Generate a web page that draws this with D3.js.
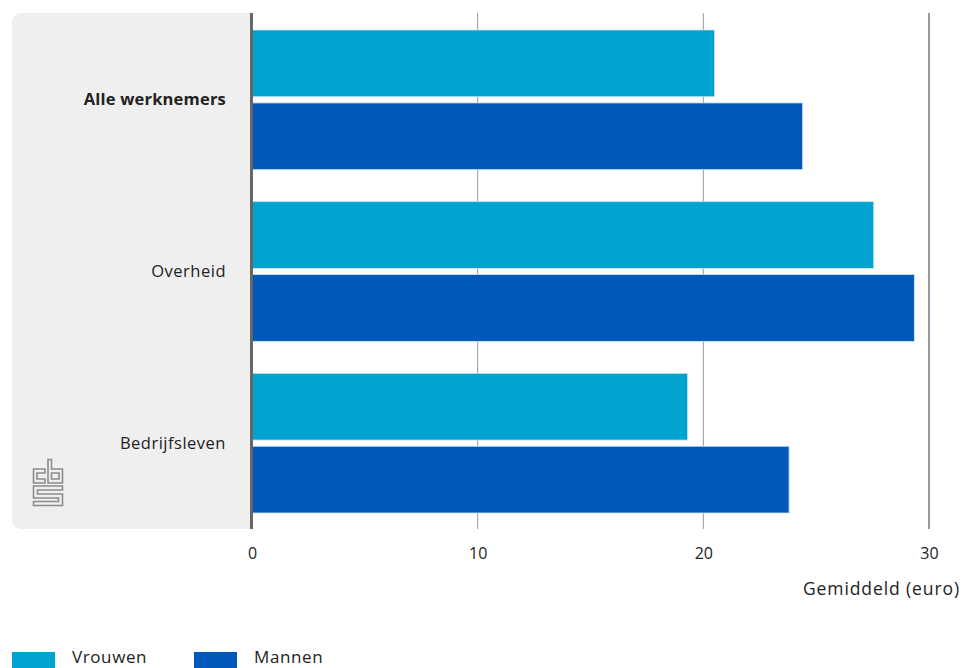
<!DOCTYPE html>
<html>
<head>
<meta charset="utf-8">
<script src="https://cdn.jsdelivr.net/npm/d3@7"></script>
<style>
  html, body { margin: 0; padding: 0; background: #fff; }
  svg { display: block; }
  text { font-family: "Open Sans", "Noto Sans", sans-serif; fill: #222; }
</style>
</head>
<body>
<svg id="chart" width="969" height="668"></svg>
<script>
const categories = ["Alle werknemers", "Overheid", "Bedrijfsleven"];
const seriesNames = ["Vrouwen", "Mannen"];
const vrouwen = [20.5, 27.55, 19.3];
const mannen = [24.4, 29.35, 23.8];
const xTicks = [0, 10, 20, 30];
const xTitle = "Gemiddeld (euro)";
const colors = ["#00a3cf", "#0059b8"];

const svg = d3.select("#chart");

const x = d3.scaleLinear().domain([0, 30]).range([252, 929]);
const y = d3.scaleBand().domain(categories).range([13, 528]).paddingInner(0).paddingOuter(0);
const inner = d3.scaleBand().domain(seriesNames).range([17, y.bandwidth() - 15]).paddingInner(0.085);

// gray label panel
svg.append("rect")
  .attr("x", 12).attr("y", 13)
  .attr("width", 250).attr("height", 516)
  .attr("rx", 9).attr("ry", 9)
  .attr("fill", "#efefef");
svg.append("rect")
  .attr("x", 251).attr("y", 13)
  .attr("width", 20).attr("height", 516)
  .attr("fill", "#fff");

// grid lines
const grid = svg.append("g");
grid.selectAll("line").data(xTicks.filter(d => d > 0)).join("line")
  .attr("x1", d => x(d)).attr("x2", d => x(d))
  .attr("y1", 13).attr("y2", 529)
  .attr("stroke", d => d === 30 ? "#777" : "#9a9a9a")
  .attr("stroke-width", d => d === 30 ? 1.5 : 1);

// bars
const data = categories.map((c, i) => ({ cat: c, vals: [vrouwen[i], mannen[i]] }));
const groups = svg.append("g").selectAll("g").data(data).join("g")
  .attr("transform", d => `translate(0,${y(d.cat)})`);
groups.selectAll("rect").data(d => d.vals.map((v, j) => ({ v, s: seriesNames[j], j }))).join("rect")
  .attr("x", x(0))
  .attr("y", d => inner(d.s))
  .attr("width", d => x(d.v) - x(0))
  .attr("height", inner.bandwidth())
  .attr("fill", d => colors[d.j])
  .attr("stroke", "#cfe3f3")
  .attr("stroke-width", 0.8);

// baseline axis
svg.append("line")
  .attr("x1", 251.5).attr("x2", 251.5)
  .attr("y1", 13).attr("y2", 529)
  .attr("stroke", "#666").attr("stroke-width", 3);

// category labels
svg.append("g").selectAll("text").data(categories).join("text")
  .attr("x", 226)
  .attr("y", d => y(d) + y.bandwidth() / 2 + 2)
  .attr("text-anchor", "end")
  .attr("dominant-baseline", "middle")
  .attr("font-size", 16.5)
  .attr("font-weight", (d, i) => i === 0 ? 700 : 400)
  .attr("letter-spacing", (d, i) => i === 0 ? 0.2 : 0.5)
  .text(d => d);

// x axis tick labels
const xAxis = d3.axisBottom(x).tickValues(xTicks).tickSize(0).tickPadding(0).tickFormat(d3.format("d"));
const gx = svg.append("g").attr("transform", "translate(0,548)").call(xAxis);
gx.select(".domain").remove();
gx.selectAll("text")
  .attr("font-size", 16)
  .attr("font-family", '"Open Sans", "Noto Sans", sans-serif')
  .attr("fill", "#222")
  .attr("dy", "0.71em");

svg.append("text")
  .attr("x", 960).attr("y", 595)
  .attr("text-anchor", "end")
  .attr("font-size", 17.5)
  .attr("letter-spacing", 0.9)
  .text(xTitle);

// legend
const leg = svg.append("g");
const legX = [12, 194];
seriesNames.forEach((s, i) => {
  leg.append("rect").attr("x", legX[i]).attr("y", 652).attr("width", 43).attr("height", 16).attr("fill", colors[i]);
  leg.append("text").attr("x", legX[i] + 60).attr("y", 663).attr("font-size", 17)
    .attr("letter-spacing", 0.6).text(s);
});

// CBS logo (approximate)
const logo = svg.append("g").attr("transform", "translate(32,459)");
const logoPaths = [
  "M13,10 H1.5 V24 H13 V20 H5 V14 H13 Z",
  "M16,0.5 H19.5 V10 H30.5 V24 H16 Z M19.5,14 V20 H27 V14 Z",
  "M30.5,27 H1.5 V39 H26.5 V42.5 H1.5 V46.5 H30.5 V35 H5.5 V31 H30.5 Z"
];
logo.selectAll("path").data(logoPaths).join("path")
  .attr("d", d => d)
  .attr("fill", "none")
  .attr("stroke", "#8c8c8c")
  .attr("stroke-width", 1.6)
  .attr("stroke-linejoin", "miter");
</script>
</body>
</html>
